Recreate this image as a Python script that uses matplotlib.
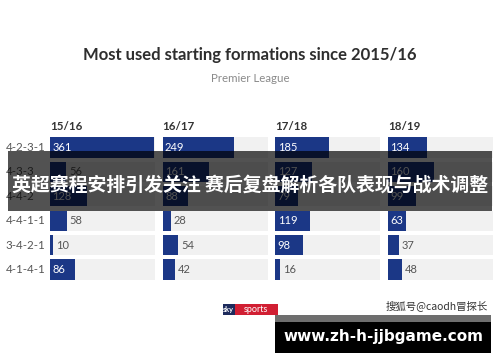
import matplotlib
matplotlib.use("Agg")
import matplotlib.pyplot as plt
from matplotlib.patches import Rectangle

plt.rcParams['font.family'] = ['Lato', 'Noto Sans CJK SC', 'DejaVu Sans']

formations = ['4-2-3-1', '4-3-3', '4-4-2', '4-4-1-1', '3-4-2-1', '4-1-4-1']
seasons = ['15/16', '16/17', '17/18', '18/19']
s1516 = [361, 56, 128, 58, 10, 86]
s1617 = [249, 161, 88, 28, 54, 42]
s1718 = [185, 127, 79, 119, 98, 16]
s1819 = [134, 160, 99, 63, 37, 48]
counts = [s1516, s1617, s1718, s1819]

title = 'Most used starting formations since 2015/16'
subtitle = 'Premier League'
banner = '英超赛程安排引发关注 赛后复盘解析各队表现与战术调整'
credit = '搜狐号@caodh冒探长'
site = 'www.zh-h-jjbgame.com'

W, H = 500, 362
NAVY = '#1b3786'
BAND = '#f1f1f1'
XMAX = 365

fig = plt.figure(figsize=(W / 100, H / 100), dpi=100)
fig.patch.set_facecolor('white')


def rect(x0, y_top, w, h):
    # pixel box (top-left origin) -> figure fraction
    return [x0 / W, (H - y_top - h) / H, w / W, h / H]


panel_left = [50, 162.7, 275.3, 388]
panel_w = 105
row_top, row_h = 135.3, 146.4

for i, (season, vals) in enumerate(zip(seasons, counts)):
    ax = fig.add_axes(rect(panel_left[i], row_top, panel_w, row_h))
    y = list(range(len(formations)))
    ax.barh(y, [XMAX] * len(y), height=0.82, color=BAND, left=0)
    ax.barh(y, vals, height=0.82, color=NAVY)
    ax.set_xlim(0, XMAX)
    ax.set_ylim(len(formations) - 0.5, -0.5)
    ax.axis('off')
    for yy, v in zip(y, vals):
        if v >= 60:
            ax.text(8, yy, str(v), color='white', fontsize=8, va='center', ha='left')
        else:
            ax.text(v + 10, yy, str(v), color='#555555', fontsize=8, va='center', ha='left')
    ax.text(0, -0.62, season, color='#333333', fontsize=8.3, fontweight='bold',
            va='bottom', ha='left')
    if i == 0:
        for yy, f in zip(y, formations):
            ax.text(-155, yy, f, color='#555555', fontsize=8.3, va='center', ha='left')

# decoration layer in pixel coordinates
ov = fig.add_axes([0, 0, 1, 1], zorder=10)
ov.set_xlim(0, W)
ov.set_ylim(H, 0)
ov.axis('off')
ov.patch.set_alpha(0)

ov.text(250, 55, title, ha='center', va='center', fontsize=12, color='#2e2e2e',
        fontweight='bold')
ov.text(250, 79, subtitle, ha='center', va='center', fontsize=8.3, color='#8a8a8a')

# banner across the chart
ov.add_patch(Rectangle((8, 151), 484, 60, color='black', alpha=0.68, lw=0))
ov.text(250, 185, banner, ha='center', va='center', fontsize=13.6, color='white',
        fontweight='bold', family=['Noto Sans CJK SC', 'DejaVu Sans'])

# sky sports logo
ov.add_patch(Rectangle((223, 304), 11.5, 11, color='#1d2a5c', lw=0))
ov.add_patch(Rectangle((234.5, 304), 43, 11, color='#d11f33', lw=0))
ov.text(228.7, 309.7, 'sky', ha='center', va='center', fontsize=5.2, color='white',
        fontweight='bold')
ov.text(256, 309.7, 'sports', ha='center', va='center', fontsize=6.5, color='white')

ov.text(488, 306, credit, ha='right', va='center', fontsize=7.5, color='#333333',
        family=['Noto Sans CJK SC', 'DejaVu Sans'])

# watermark box
ov.add_patch(Rectangle((275, 315), 216, 7, color='#6e6e6e', lw=0))
ov.add_patch(Rectangle((275, 322), 216, 31, color='black', lw=0))
ov.text(383, 337, site, ha='center', va='center', fontsize=11, color='white',
        fontweight='bold', family=['DejaVu Sans'])

fig.savefig('out.png', dpi=100)
